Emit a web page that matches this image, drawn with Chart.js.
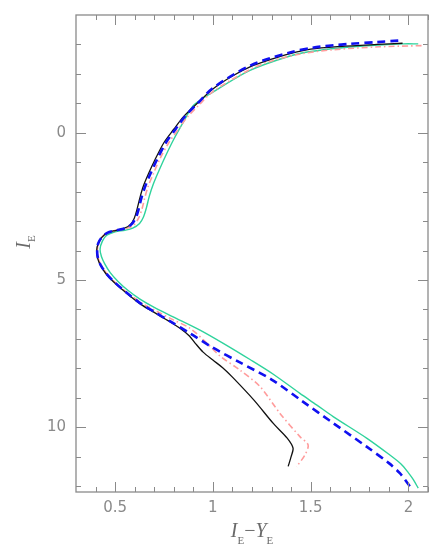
<!DOCTYPE html>
<html>
<head>
<meta charset="utf-8">
<title>I_E vs I_E - Y_E</title>
<script src="https://cdn.jsdelivr.net/npm/chart.js@4.4.0/dist/chart.umd.min.js"></script>
<style>
    html, body { margin: 0; padding: 0; background: #fff; }
    #wrap { width: 432px; height: 550px; }
</style>
</head>
<body>
<div id="wrap"><canvas id="cmdChart" width="432" height="550"></canvas></div>
<script>
// Tick labels
const xTickVals = [0.5, 1, 1.5, 2];
const yTickVals = [0, 5, 10];

// Black solid track
const blackX = [1.97, 1.84, 1.65, 1.50, 1.39, 1.30, 1.19, 1.10, 1.00, 0.92, 0.85, 0.80, 0.75, 0.705, 0.67, 0.645, 0.627, 0.612, 0.598, 0.578, 0.545, 0.50, 0.46, 0.432, 0.414, 0.406, 0.41, 0.425, 0.452, 0.49, 0.55, 0.63, 0.70, 0.78, 0.84, 0.88, 0.91, 0.95, 1.00, 1.05, 1.10, 1.21, 1.31, 1.38, 1.41, 1.40, 1.385];
const blackY = [-3.04, -3.0, -2.93, -2.84, -2.68, -2.5, -2.24, -1.93, -1.49, -1.0, -0.55, -0.12, 0.33, 0.9, 1.4, 1.8, 2.2, 2.6, 2.9, 3.12, 3.25, 3.32, 3.4, 3.55, 3.75, 3.98, 4.25, 4.5, 4.78, 5.05, 5.4, 5.82, 6.1, 6.42, 6.68, 6.9, 7.15, 7.45, 7.72, 7.98, 8.3, 9.08, 9.88, 10.37, 10.71, 11.0, 11.33];

// Blue dashed track
const blueX = [1.948, 1.84, 1.70, 1.51, 1.39, 1.19, 1.00, 0.925, 0.86, 0.81, 0.76, 0.715, 0.68, 0.655, 0.635, 0.62, 0.605, 0.582, 0.548, 0.50, 0.46, 0.432, 0.414, 0.408, 0.412, 0.427, 0.455, 0.493, 0.553, 0.635, 0.70, 0.78, 0.883, 1.0, 1.138, 1.30, 1.46, 1.615, 1.786, 1.90, 1.956, 2.008];
const blueY = [-3.13, -3.08, -3.02, -2.89, -2.72, -2.28, -1.52, -1.02, -0.58, -0.13, 0.33, 0.9, 1.4, 1.8, 2.2, 2.6, 2.9, 3.12, 3.25, 3.32, 3.4, 3.55, 3.75, 3.98, 4.25, 4.5, 4.78, 5.05, 5.4, 5.82, 6.08, 6.4, 6.81, 7.3, 7.8, 8.38, 9.13, 9.86, 10.66, 11.22, 11.56, 12.01];

// Pink dash-dot track
const pinkX = [2.067, 1.85, 1.615, 1.45, 1.30, 1.19, 1.00, 0.93, 0.865, 0.825, 0.775, 0.728, 0.695, 0.67, 0.652, 0.637, 0.62, 0.595, 0.552, 0.50, 0.46, 0.432, 0.415, 0.409, 0.413, 0.428, 0.457, 0.495, 0.556, 0.64, 0.71, 0.79, 0.883, 0.97, 1.036, 1.138, 1.241, 1.343, 1.445, 1.487, 1.47, 1.428];
const pinkY = [-2.96, -2.92, -2.82, -2.68, -2.44, -2.15, -1.4, -0.95, -0.5, -0.13, 0.33, 0.9, 1.4, 1.8, 2.2, 2.6, 2.9, 3.14, 3.26, 3.32, 3.4, 3.55, 3.75, 3.98, 4.25, 4.5, 4.78, 5.05, 5.4, 5.8, 6.05, 6.33, 6.64, 7.15, 7.58, 8.06, 8.62, 9.53, 10.32, 10.6, 10.95, 11.34];

// Green solid track
const greenX = [2.05, 1.973, 1.85, 1.65, 1.50, 1.39, 1.19, 1.00, 0.90, 0.854, 0.80, 0.755, 0.72, 0.695, 0.675, 0.66, 0.645, 0.625, 0.59, 0.55, 0.50, 0.457, 0.435, 0.423, 0.43, 0.447, 0.475, 0.515, 0.565, 0.627, 0.70, 0.797, 0.934, 1.053, 1.19, 1.309, 1.445, 1.53, 1.615, 1.786, 1.90, 1.962, 2.0, 2.025, 2.05];
const greenY = [-3.02, -3.02, -2.98, -2.88, -2.76, -2.6, -2.12, -1.38, -0.93, -0.42, 0.22, 0.83, 1.35, 1.75, 2.15, 2.55, 2.86, 3.08, 3.24, 3.31, 3.36, 3.48, 3.68, 3.95, 4.2, 4.45, 4.75, 5.05, 5.35, 5.65, 5.93, 6.25, 6.70, 7.15, 7.7, 8.2, 8.85, 9.24, 9.64, 10.37, 10.92, 11.25, 11.55, 11.78, 12.07];

const AXIS_GRAY = '#8a8a8a';
const LABEL_GRAY = '#8a8a8a';

function toPoints(xs, ys) {
    return xs.map((x, i) => ({ x: x, y: ys[i] }));
}

// Frame plus inward ticks on all four sides
const frameTicks = {
    id: 'frameTicks',
    afterDatasetsDraw(chart) {
        const { ctx, chartArea: a, scales } = chart;
        const xs = scales.x, ys = scales.y;
        ctx.save();
        ctx.strokeStyle = AXIS_GRAY;
        ctx.lineWidth = 1;
        ctx.beginPath();
        // x ticks every 0.1, longer at labelled values
        for (let k = 4; k <= 21; k++) {
            const v = k / 10;
            const px = Math.round(xs.getPixelForValue(v)) + 0.5;
            const len = (k % 5 === 0) ? 10 : 5;
            ctx.moveTo(px, a.bottom); ctx.lineTo(px, a.bottom - len);
            ctx.moveTo(px, a.top); ctx.lineTo(px, a.top + len);
        }
        // y ticks every 1
        for (let v = -3; v <= 12; v++) {
            const py = Math.round(ys.getPixelForValue(v)) + 0.5;
            const len = (v % 5 === 0) ? 10 : 5;
            ctx.moveTo(a.left, py); ctx.lineTo(a.left + len, py);
            ctx.moveTo(a.right, py); ctx.lineTo(a.right - len, py);
        }
        ctx.stroke();
        ctx.lineWidth = 1.3;
        ctx.strokeRect(a.left, a.top, a.right - a.left, a.bottom - a.top);
        ctx.restore();
    }
};

// Draw a run of [text, font, dy] pieces starting at (x, y)
function drawRuns(ctx, runs, x, y) {
    let cx = x;
    runs.forEach(r => {
        ctx.font = r[1];
        ctx.fillText(r[0], cx, y + r[2]);
        cx += ctx.measureText(r[0]).width;
    });
    return cx - x;
}

function runsWidth(ctx, runs) {
    let w = 0;
    runs.forEach(r => { ctx.font = r[1]; w += ctx.measureText(r[0]).width; });
    return w;
}

// Axis titles with subscripts
const axisTitles = {
    id: 'axisTitles',
    afterDraw(chart) {
        const { ctx, chartArea: a } = chart;
        const big = 'italic 20px "Liberation Serif"';
        const sub = '11px "Liberation Serif"';
        const mid = '20px "Liberation Serif"';
        ctx.save();
        ctx.fillStyle = '#6a6a6a';
        ctx.textBaseline = 'alphabetic';
        ctx.textAlign = 'left';

        const xRuns = [['I', big, 0], ['E', sub, 7], ['\u2212', mid, 0], ['Y', big, 0], ['E', sub, 7]];
        const xw = runsWidth(ctx, xRuns);
        drawRuns(ctx, xRuns, (a.left + a.right) / 2 - xw / 2, 537);

        const yRuns = [['I', big, 0], ['E', sub, 5]];
        const yw = runsWidth(ctx, yRuns);
        ctx.translate(30, 242);
        ctx.rotate(-Math.PI / 2);
        drawRuns(ctx, yRuns, -yw / 2, 0);
        ctx.restore();
    }
};

function createChart(canvasId) {
    const canvas = document.getElementById(canvasId);
    const tickFont = { family: '"DejaVu Sans"', size: 15 };

    canvas.chart = new Chart(canvas.getContext('2d'), {
        type: 'scatter',
        data: {
            datasets: [
                {
                    label: 'blue',
                    data: toPoints(blueX, blueY),
                    borderColor: '#1010f0',
                    borderWidth: 2.6,
                    borderDash: [8, 5],
                    order: 1
                },
                {
                    label: 'black',
                    data: toPoints(blackX, blackY),
                    borderColor: '#111111',
                    borderWidth: 1.3,
                    order: 2
                },
                {
                    label: 'pink',
                    data: toPoints(pinkX, pinkY),
                    borderColor: '#ff9c9c',
                    borderWidth: 1.6,
                    borderDash: [6, 3, 1.5, 3],
                    order: 3
                },
                {
                    label: 'green',
                    data: toPoints(greenX, greenY),
                    borderColor: '#2fd39c',
                    borderWidth: 1.4,
                    order: 4
                }
            ].map(d => Object.assign(d, {
                showLine: true,
                fill: false,
                tension: 0.3,
                pointRadius: 0,
                pointHoverRadius: 0
            }))
        },
        options: {
            responsive: false,
            animation: false,
            devicePixelRatio: 1,
            layout: { padding: { left: 0, right: 4, top: 15, bottom: 0 } },
            plugins: {
                legend: { display: false },
                tooltip: { enabled: false }
            },
            scales: {
                x: {
                    type: 'linear',
                    min: 0.3,
                    max: 2.1,
                    grid: { display: false, drawTicks: false },
                    border: { display: false },
                    ticks: {
                        font: tickFont,
                        color: LABEL_GRAY,
                        padding: 7,
                        autoSkip: false,
                        maxRotation: 0,
                        callback: v => String(v)
                    },
                    afterBuildTicks: s => { s.ticks = xTickVals.map(v => ({ value: v })); },
                    afterFit: s => { s.height = 58; s.paddingLeft = 0; s.paddingRight = 0; }
                },
                y: {
                    type: 'linear',
                    reverse: true,
                    min: -4,
                    max: 12.2,
                    grid: { display: false, drawTicks: false },
                    border: { display: false },
                    ticks: {
                        font: tickFont,
                        color: LABEL_GRAY,
                        padding: 10,
                        autoSkip: false,
                        callback: v => String(v)
                    },
                    afterBuildTicks: s => { s.ticks = yTickVals.map(v => ({ value: v })); },
                    afterFit: s => { s.width = 76; s.paddingTop = 0; s.paddingBottom = 0; }
                }
            }
        },
        plugins: [frameTicks, axisTitles]
    });
}

createChart('cmdChart');
</script>
</body>
</html>
